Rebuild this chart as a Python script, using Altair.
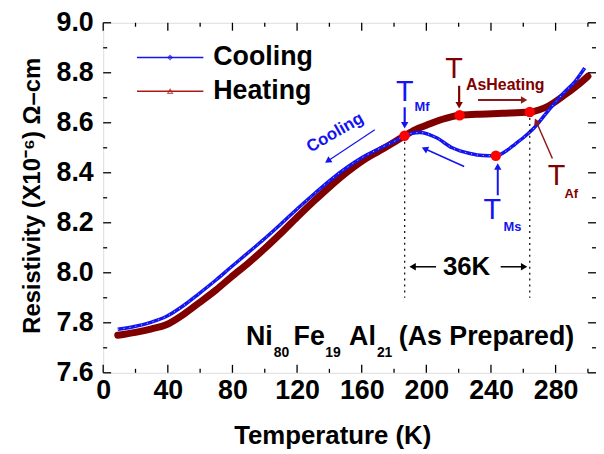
import math
import altair as alt
import pandas as pd

# ---------------- data ----------------
cool_T = [9, 20, 30, 39, 50, 59, 70, 79, 90, 100, 110, 120, 131, 140, 151, 160, 170, 180,
          186.5, 191, 196, 206, 216, 227, 235, 243, 250, 255, 260, 266, 276, 286, 292, 298]
cool_R = [7.774, 7.786, 7.803, 7.825, 7.87, 7.915, 7.972, 8.022, 8.082, 8.137, 8.195, 8.255,
          8.318, 8.368, 8.422, 8.46, 8.494, 8.525, 8.548, 8.558, 8.561, 8.541, 8.50, 8.477,
          8.469, 8.468, 8.49, 8.515, 8.54, 8.575, 8.653, 8.726, 8.765, 8.819]

heat_T = [9, 20, 30, 39, 50, 59, 70, 79, 90, 100, 110, 120, 131, 140, 151, 160, 171, 180,
          186.5, 193, 200, 210, 220.6, 231, 247, 264, 275.6, 286, 296.5, 300]
heat_R = [7.75, 7.762, 7.776, 7.792, 7.835, 7.878, 7.932, 7.982, 8.04, 8.097, 8.158, 8.222,
          8.29, 8.343, 8.403, 8.446, 8.488, 8.522, 8.548, 8.572, 8.59, 8.614, 8.63, 8.634,
          8.638, 8.643, 8.667, 8.713, 8.766, 8.786]

# transition points: T_Mf, T_As, T_Af, T_Ms
trans_T = [186.5, 220.6, 264, 243]
trans_R = [8.548, 8.630, 8.643, 8.468]

x_major = [0, 40, 80, 120, 160, 200, 240, 280]
x_minor = [20, 60, 100, 140, 180, 220, 260, 300]
y_major = [7.6, 7.8, 8.0, 8.2, 8.4, 8.6, 8.8, 9.0]
y_minor = [7.7, 7.9, 8.1, 8.3, 8.5, 8.7, 8.9]

# ---------------- styling ----------------
FONT = "Liberation Sans"
BLUE = "#1414f0"
DRED = "#800000"
ARED = "#8b1a1a"
W, H = 497, 353
XMAX = 305
YMIN, YMAX = 7.6, 9.0
PX_T = W / XMAX
PX_R = H / (YMAX - YMIN)

xs = alt.Scale(domain=[0, XMAX], nice=False, zero=False)
ys = alt.Scale(domain=[YMIN, YMAX], nice=False, zero=False)


def X(f="T"):
    return alt.X(f + ":Q", scale=xs)


def Y(f="R"):
    return alt.Y(f + ":Q", scale=ys)


xaxis = alt.Axis(values=x_major, ticks=False, domain=False, grid=False, labelFont=FONT,
                 labelFontSize=27, labelFontWeight="bold", labelColor="black", labelPadding=5,
                 labelFlush=False, labelOverlap=False, title="Temperature (K)", titleFont=FONT,
                 titleFontSize=26, titleFontWeight="bold", titleColor="black", titleX=231,
                 titleY=63, titleBaseline="middle", titleAlign="center")
yaxis = alt.Axis(values=y_major, format=".1f", ticks=False, domain=False, grid=False,
                 labelFont=FONT, labelFontSize=27, labelFontWeight="bold", labelColor="black",
                 labelPadding=10, labelFlush=False, labelOverlap=False,
                 title="Resistivity (X10⁻⁶) Ω–cm", titleFont=FONT, titleFontSize=24,
                 titleFontWeight="bold", titleColor="black", titleAngle=270, titleX=-71,
                 titleY=174, titleBaseline="middle", titleAlign="center")

df_cool = pd.DataFrame({"T": cool_T, "R": cool_R})
df_heat = pd.DataFrame({"T": heat_T, "R": heat_R})

heat_line = alt.Chart(df_heat).mark_line(color=DRED, strokeWidth=7, interpolate="monotone",
                                         strokeCap="round").encode(
    x=alt.X("T:Q", scale=xs, axis=xaxis), y=alt.Y("R:Q", scale=ys, axis=yaxis))
cool_line = alt.Chart(df_cool).mark_line(color=BLUE, strokeWidth=3.5, interpolate="monotone").encode(
    x=X(), y=Y())
cool_dots = alt.Chart(df_cool).mark_line(color="#c8d0ff", strokeWidth=1, strokeDash=[1, 5],
                                         interpolate="monotone").encode(x=X(), y=Y())

trans = alt.Chart(pd.DataFrame({"T": trans_T, "R": trans_R})).mark_point(
    shape="circle", filled=True, color="#ff0000", size=110, opacity=1).encode(x=X(), y=Y())

# dotted guide lines
guides = alt.Chart(pd.DataFrame({"T": [186.6, 264], "R": [8.548, 8.643], "R2": [7.9, 7.9]})).mark_rule(
    color="black", strokeWidth=1.2, strokeDash=[2, 4]).encode(x=X(), y=Y(), y2="R2:Q")

# inward ticks on all four sides
def tick_layer(vals, axis_ch, length, side):
    d = pd.DataFrame({"v": vals})
    m = alt.Chart(d).mark_rule(color="black", strokeWidth=1.3)
    if axis_ch == "x":
        if side == "bottom":
            return m.encode(x=alt.X("v:Q", scale=xs), y=alt.value(H), y2=alt.value(H - length))
        return m.encode(x=alt.X("v:Q", scale=xs), y=alt.value(0), y2=alt.value(length))
    if side == "left":
        return m.encode(y=alt.Y("v:Q", scale=ys), x=alt.value(0), x2=alt.value(length))
    return m.encode(y=alt.Y("v:Q", scale=ys), x=alt.value(W), x2=alt.value(W - length))


ticks = [tick_layer(x_major, "x", 8, "bottom"), tick_layer(x_minor, "x", 4, "bottom"),
         tick_layer(x_major, "x", 8, "top"), tick_layer(x_minor, "x", 4, "top"),
         tick_layer(y_major, "y", 8, "left"), tick_layer(y_minor, "y", 4, "left"),
         tick_layer(y_major, "y", 8, "right"), tick_layer(y_minor, "y", 4, "right")]

# arrows: (T, R) -> (T2, R2)
arrows = pd.DataFrame([
    dict(T=168.1, R=8.572, T2=139.0, R2=8.447, c=BLUE, w=1.2),     # cooling arrow
    dict(T=186.6, R=8.662, T2=186.6, R2=8.59, c=BLUE, w=2.2),      # T_Mf
    dict(T=220.3, R=8.748, T2=220.3, R2=8.67, c=DRED, w=2.2),      # T_As
    dict(T=232.0, R=8.691, T2=260.5, R2=8.691, c=ARED, w=2.0),     # heating arrow
    dict(T=278.0, R=8.457, T2=268.0, R2=8.605, c=ARED, w=1.5),     # T_Af
    dict(T=244.2, R=8.31, T2=244.2, R2=8.425, c=BLUE, w=2.0),      # T_Ms
    dict(T=223.4, R=8.425, T2=199.0, R2=8.496, c=BLUE, w=1.5),     # cooling under
    dict(T=206.0, R=8.024, T2=191.5, R2=8.024, c="black", w=1.5),  # 36K left
    dict(T=246.0, R=8.024, T2=260.5, R2=8.024, c="black", w=1.5),  # 36K right
])
arrows["ang"] = [
    (math.degrees(math.atan2((r.T2 - r.T) * PX_T, (r.R2 - r.R) * PX_R)) + 360) % 360
    for r in arrows.itertuples()]

arrow_lines = alt.Chart(arrows).mark_rule().encode(
    x=X(), y=Y(), x2="T2:Q", y2="R2:Q",
    color=alt.Color("c:N", scale=None), strokeWidth=alt.StrokeWidth("w:Q", scale=None))
arrow_heads = alt.Chart(arrows).mark_point(shape="triangle-up", filled=True, size=55, opacity=1).encode(
    x=alt.X("T2:Q", scale=xs), y=alt.Y("R2:Q", scale=ys),
    color=alt.Color("c:N", scale=None), angle=alt.Angle("ang:Q", scale=None))

# legend
leg = pd.DataFrame({"T": [20.9, 20.9], "T2": [62.0, 62.0], "R": [8.861, 8.726],
                    "c": [BLUE, "#b01818"], "lab": ["Cooling", "Heating"],
                    "TL": [68.1, 68.1], "TM": [41.4, 41.4]})
leg_lines = alt.Chart(leg).mark_rule(strokeWidth=1.6).encode(
    x=X(), x2="T2:Q", y=Y(), color=alt.Color("c:N", scale=None))
leg_text = alt.Chart(leg).mark_text(font=FONT, fontSize=27, fontWeight="bold", align="left",
                                    baseline="middle", color="black").encode(
    x=alt.X("TL:Q", scale=xs), y=Y(), text="lab:N")
leg_m1 = alt.Chart(leg.iloc[[0]]).mark_point(shape="diamond", filled=False, size=18, color=BLUE,
                                              strokeWidth=1.2).encode(x=alt.X("TM:Q", scale=xs), y=Y())
leg_m2 = alt.Chart(leg.iloc[[1]]).mark_point(shape="triangle-up", filled=False, size=22,
                                              color="#b01818", strokeWidth=1.2).encode(
    x=alt.X("TM:Q", scale=xs), y=Y())


def text_layer(rows, size, weight="bold", align="left", baseline="middle", angle=0):
    d = pd.DataFrame(rows, columns=["txt", "T", "R", "c"])
    return alt.Chart(d).mark_text(font=FONT, fontSize=size, fontWeight=weight, align=align,
                                  baseline=baseline, angle=angle).encode(
        x=X(), y=Y(), text="txt:N", color=alt.Color("c:N", scale=None))


t_big = text_layer([("T", 186.6, 8.722, BLUE), ("T", 217.2, 8.814, DRED),
                    ("T", 280.5, 8.385, DRED), ("T", 240.8, 8.25, BLUE)],
                   29, weight="normal", align="center")
t_sub = text_layer([("Mf", 192.7, 8.663, BLUE), ("Af", 285.5, 8.315, DRED),
                    ("Ms", 247.8, 8.185, BLUE)], 13)
t_as = text_layer([("AsHeating", 224.6, 8.752, DRED)], 16)
t_cool = text_layer([("Cooling", 143.5, 8.56, BLUE)], 17, align="center", angle=330)
t_36 = text_layer([("36K", 224.9, 8.024, "black")], 26, align="center")
t_ni_big = text_layer([("Ni", 88.4, 7.712, "black"), ("Fe", 117.8, 7.712, "black"),
                       ("Al", 152.2, 7.712, "black"), ("(As Prepared)", 182.9, 7.712, "black")],
                      27, baseline="alphabetic")
t_ni_sub = text_layer([("80", 105.6, 7.664, "black"), ("19", 137.5, 7.664, "black"),
                       ("21", 169.4, 7.664, "black")], 14, baseline="alphabetic")

chart = alt.layer(
    heat_line, cool_line, cool_dots, *ticks, guides, arrow_lines, arrow_heads, trans,
    leg_lines, leg_m1, leg_m2, leg_text, t_big, t_sub, t_as, t_cool, t_36, t_ni_big, t_ni_sub,
).properties(
    width=W, height=H,
    autosize=alt.AutoSizeParams(type="none"),
    padding={"left": 96, "top": 13, "right": 0, "bottom": 80},
).configure_view(stroke="black", strokeWidth=1.5).configure(font=FONT, background="white")

chart.save("out.html", embed_options={"renderer": "svg", "actions": False})
